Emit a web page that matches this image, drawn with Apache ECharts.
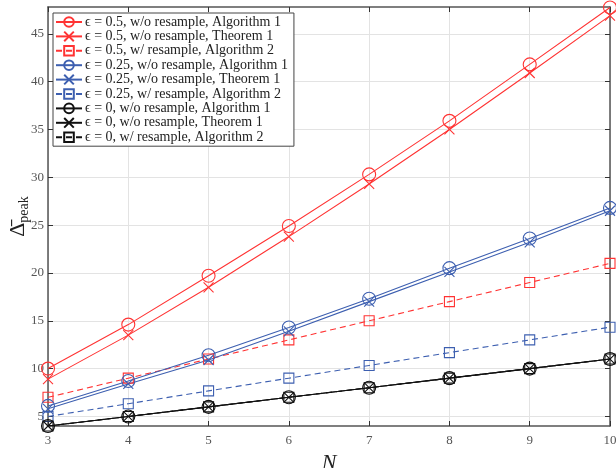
<!DOCTYPE html>
<html>
<head>
<meta charset="utf-8">
<script src="https://cdn.jsdelivr.net/npm/echarts@6/dist/echarts.min.js"></script>
<style>
  html, body { margin: 0; padding: 0; background: #fff; }
  #chart { width: 616px; height: 468px; }
</style>
</head>
<body>
<div id="chart"></div>
<script>
// 横轴 N
var N = [3, 4, 5, 6, 7, 8, 9, 10];
// 纵轴刻度
var yTicks = [5, 10, 15, 20, 25, 30, 35, 40, 45];

// ε = 0.5
var e05Alg1 = [10.0, 14.6, 19.7, 24.9, 30.3, 35.9, 41.8, 47.75];
var e05Thm1 = [8.9, 13.5, 18.5, 23.8, 29.3, 35.0, 40.9, 46.9];
var e05Alg2 = [7, 9, 11, 13, 15, 17, 19, 21];
// ε = 0.25
var e025Alg1 = [6.1, 8.7, 11.4, 14.3, 17.3, 20.5, 23.6, 26.8];
var e025Thm1 = [5.8, 8.4, 10.9, 13.9, 17.0, 20.1, 23.2, 26.5];
var e025Alg2 = [5, 6.33, 7.67, 9, 10.33, 11.67, 13, 14.33];
// ε = 0
var e0Alg1 = [4, 5, 6, 7, 8, 9, 10, 11];
var e0Thm1 = [4, 5, 6, 7, 8, 9, 10, 11];
var e0Alg2 = [4, 5, 6, 7, 8, 9, 10, 11];

var RED = '#ff3333';
var BLUE = '#3d5fb0';
var BLACK = '#111111';
var CROSS = 'path://M0,0L10,10M0,10L10,0';
var FONT = 'Liberation Serif';
var CLEAR = 'rgba(0,0,0,0)';

// 生成一条曲线
function makeSeries(name, data, color, kind) {
  var s = {
    name: name,
    type: 'line',
    xAxisIndex: 0,
    yAxisIndex: 0,
    data: N.map(function (n, i) { return [n, data[i]]; }),
    lineStyle: { color: color, width: 1.1, type: kind === 'square' ? [6, 4] : 'solid' },
    itemStyle: { color: CLEAR, borderColor: color, borderWidth: 1.1 },
    symbolKeepAspect: true,
    animation: false
  };
  if (kind === 'circle') {
    s.symbol = 'circle';
    s.symbolSize = 13;
  } else if (kind === 'cross') {
    s.symbol = CROSS;
    s.symbolSize = 10;
  } else {
    s.symbol = 'rect';
    s.symbolSize = 10;
  }
  return s;
}

var chart = echarts.init(document.getElementById('chart'), null, { renderer: 'canvas' });

var axisLineStyle = { color: '#555', width: 1.5 };
var tickStyle = { color: '#333' };

chart.setOption({
  backgroundColor: '#fff',
  textStyle: { fontFamily: FONT },
  grid: { left: 48, right: 6, top: 7, bottom: 42, containLabel: false, outerBoundsMode: 'none' },
  legend: {
    orient: 'vertical',
    left: 53,
    top: 13,
    itemWidth: 26,
    itemHeight: 12,
    itemGap: 0.4,
    padding: [2, 6, 2, 2],
    backgroundColor: '#fff',
    borderColor: '#444',
    borderWidth: 1,
    textStyle: { fontFamily: FONT, fontSize: 14, color: '#222', padding: [0, 0, 0, -2] }
  },
  xAxis: [{
    type: 'value',
    min: 3, max: 10, interval: 1,
    name: 'N',
    nameLocation: 'middle',
    nameGap: 24,
    nameTextStyle: { fontFamily: FONT, fontStyle: 'italic', fontSize: 22, color: '#222' },
    axisLine: { show: true, lineStyle: axisLineStyle },
    axisTick: { inside: true, length: 5, lineStyle: tickStyle },
    axisLabel: { fontFamily: FONT, fontSize: 13, color: '#555', margin: 8 },
    splitLine: { show: true, lineStyle: { color: '#e3e3e3', width: 1 } }
  }, {
    type: 'value',
    position: 'top',
    min: 3, max: 10, interval: 1,
    axisLine: { show: true, lineStyle: axisLineStyle },
    axisTick: { inside: true, length: 5, lineStyle: tickStyle },
    axisLabel: { show: false },
    splitLine: { show: false }
  }],
  yAxis: [{
    type: 'value',
    min: 4, max: 47.8,
    name: '{d|Δ̄}{s|peak}',
    nameLocation: 'middle',
    nameGap: 17,
    nameMoveOverlap: false,
    nameRotate: 90,
    nameTextStyle: {
      rich: {
        d: { fontFamily: FONT, fontSize: 22, color: '#222', lineHeight: 26 },
        s: { fontFamily: FONT, fontSize: 14, color: '#222', verticalAlign: 'bottom', lineHeight: 18 }
      }
    },
    axisLine: { show: true, lineStyle: axisLineStyle },
    axisTick: { inside: true, length: 5, lineStyle: tickStyle, customValues: yTicks },
    axisLabel: { fontFamily: FONT, fontSize: 13, color: '#555', margin: 4, customValues: yTicks },
    splitLine: { show: true, lineStyle: { color: '#e3e3e3', width: 1 }, customValues: yTicks }
  }, {
    type: 'value',
    position: 'right',
    min: 4, max: 47.8,
    axisLine: { show: true, lineStyle: axisLineStyle },
    axisTick: { inside: true, length: 5, lineStyle: tickStyle, customValues: yTicks },
    axisLabel: { show: false },
    splitLine: { show: false }
  }],
  series: [
    makeSeries('ϵ = 0.5, w/o resample, Algorithm 1', e05Alg1, RED, 'circle'),
    makeSeries('ϵ = 0.5, w/o resample, Theorem 1', e05Thm1, RED, 'cross'),
    makeSeries('ϵ = 0.5, w/ resample, Algorithm 2', e05Alg2, RED, 'square'),
    makeSeries('ϵ = 0.25, w/o resample, Algorithm 1', e025Alg1, BLUE, 'circle'),
    makeSeries('ϵ = 0.25, w/o resample, Theorem 1', e025Thm1, BLUE, 'cross'),
    makeSeries('ϵ = 0.25, w/ resample, Algorithm 2', e025Alg2, BLUE, 'square'),
    makeSeries('ϵ = 0, w/o resample, Algorithm 1', e0Alg1, BLACK, 'circle'),
    makeSeries('ϵ = 0, w/o resample, Theorem 1', e0Thm1, BLACK, 'cross'),
    makeSeries('ϵ = 0, w/ resample, Algorithm 2', e0Alg2, BLACK, 'square')
  ]
});
</script>
</body>
</html>
